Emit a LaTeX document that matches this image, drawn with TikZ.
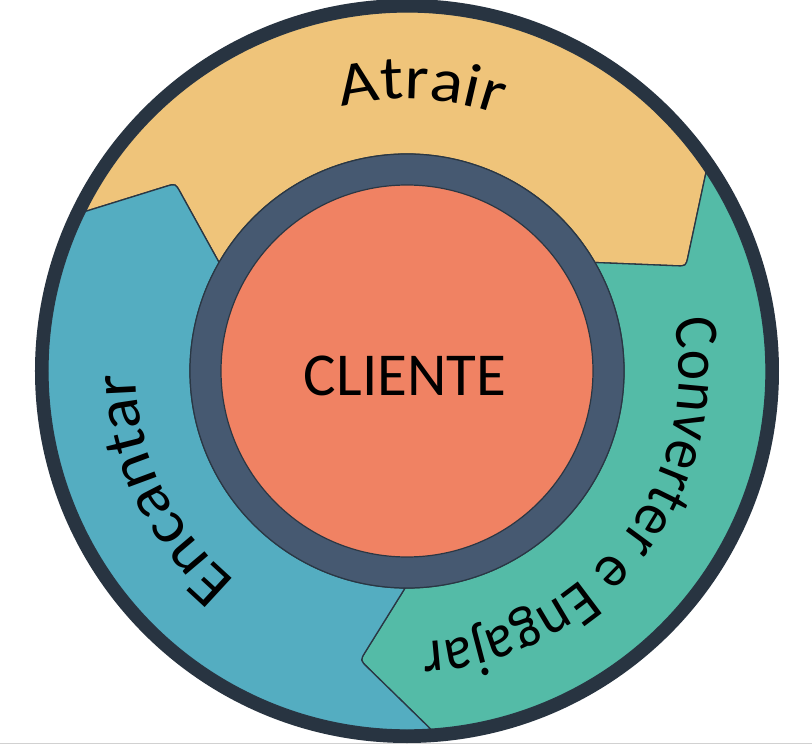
\documentclass[tikz,border=0pt]{standalone}
\usepackage{fontspec}
\setmainfont{Carlito}
\newfontfamily\fAtr[FakeStretch=1.11]{Carlito}
\newfontfamily\fEnc[FakeStretch=1.065]{Carlito}
\newfontfamily\fCon[FakeStretch=0.93]{Carlito}
\usetikzlibrary{calc,decorations.text}
\definecolor{cBorder}{HTML}{283441}
\definecolor{cLine}{HTML}{2A3744}
\definecolor{cYel}{HTML}{EFC47A}
\definecolor{cTeal}{HTML}{54BBA7}
\definecolor{cBlue}{HTML}{54ADC1}
\definecolor{cRing}{HTML}{465971}
\definecolor{cOrange}{HTML}{F08263}
\begin{document}
\begin{tikzpicture}[
  seg/.style={draw=cLine, line width=1.3pt, line join=round},
  disc/.style={circle, draw=cLine, line width=1.2pt, inner sep=0pt},
  arclabel/.style={decorate, decoration={text along path, text align=center, text={#1}}},
]
\useasboundingbox (-407pt,-374pt) rectangle (405pt,371pt);
\fill[white] (-407pt,-374pt) rectangle (405pt,371pt);
\draw[black!18, line width=1.5pt] (-407pt,-372.5pt) -- (405pt,-372.5pt);
% boundary points
\coordinate (Li) at (150:217pt);
\coordinate (Lt) at (141:298pt);
\coordinate (Lo) at (153.6:359pt);
\coordinate (Ri) at (30:217pt);
\coordinate (Rt) at (20.6:298pt);
\coordinate (Ro) at (33.6:359pt);
\coordinate (Bi) at (269.5:217pt);
\coordinate (Bt) at (260.8:293pt);
\coordinate (Bo) at (273.8:359pt);
% Atrair segment
\path[seg, fill=cYel] (Lo) arc[start angle=153.6, end angle=33.6, radius=359pt]
  -- ($(Rt)!10pt!(Ro)$) .. controls (Rt) .. ($(Rt)!10pt!(Ri)$) -- (Ri)
  arc[start angle=30, end angle=150, radius=217pt]
  -- ($(Lt)!10pt!(Li)$) .. controls (Lt) .. ($(Lt)!10pt!(Lo)$) -- cycle;
% Converter segment
\path[seg, fill=cTeal] (Ro) -- ($(Rt)!10pt!(Ro)$) .. controls (Rt) .. ($(Rt)!10pt!(Ri)$) -- (Ri)
  arc[start angle=30, end angle=-90.5, radius=217pt]
  -- ($(Bt)!10pt!(Bi)$) .. controls (Bt) .. ($(Bt)!10pt!(Bo)$) -- (Bo)
  arc[start angle=-86.2, end angle=33.6, radius=359pt] -- cycle;
% Encantar segment
\path[seg, fill=cBlue] (Bo) -- ($(Bt)!10pt!(Bo)$) .. controls (Bt) .. ($(Bt)!10pt!(Bi)$) -- (Bi)
  arc[start angle=269.5, end angle=150, radius=217pt]
  -- ($(Lt)!10pt!(Li)$) .. controls (Lt) .. ($(Lt)!10pt!(Lo)$) -- (Lo)
  arc[start angle=153.6, end angle=273.8, radius=359pt] -- cycle;
% ring and core
\node[disc, fill=cRing, minimum size=434pt] (ring) at (0,0) {};
\node[disc, fill=cOrange, minimum size=372pt] (core) at (0,0) {};
% outer border
\draw[cBorder, line width=13pt] (0,0) circle[radius=365.5pt];
% labels
\node[anchor=base, font=\fontsize{61}{70}\selectfont] (cliente) at (-2pt,-24pt) {CLIENTE};
\path[arclabel={|\fAtr\fontsize{62}{70}\selectfont|Atrair}]
  (117:272pt) arc[start angle=117, end angle=57, radius=272pt];
\path[arclabel={|\fCon\fontsize{62}{70}\selectfont|Converter e Engajar}]
  (22:272pt) arc[start angle=22, end angle=-98, radius=272pt];
\path[arclabel={|\fEnc\fontsize{62}{70}\selectfont|Encantar}]
  (240:271pt) arc[start angle=240, end angle=171.2, radius=271pt];
\end{tikzpicture}
\end{document}
